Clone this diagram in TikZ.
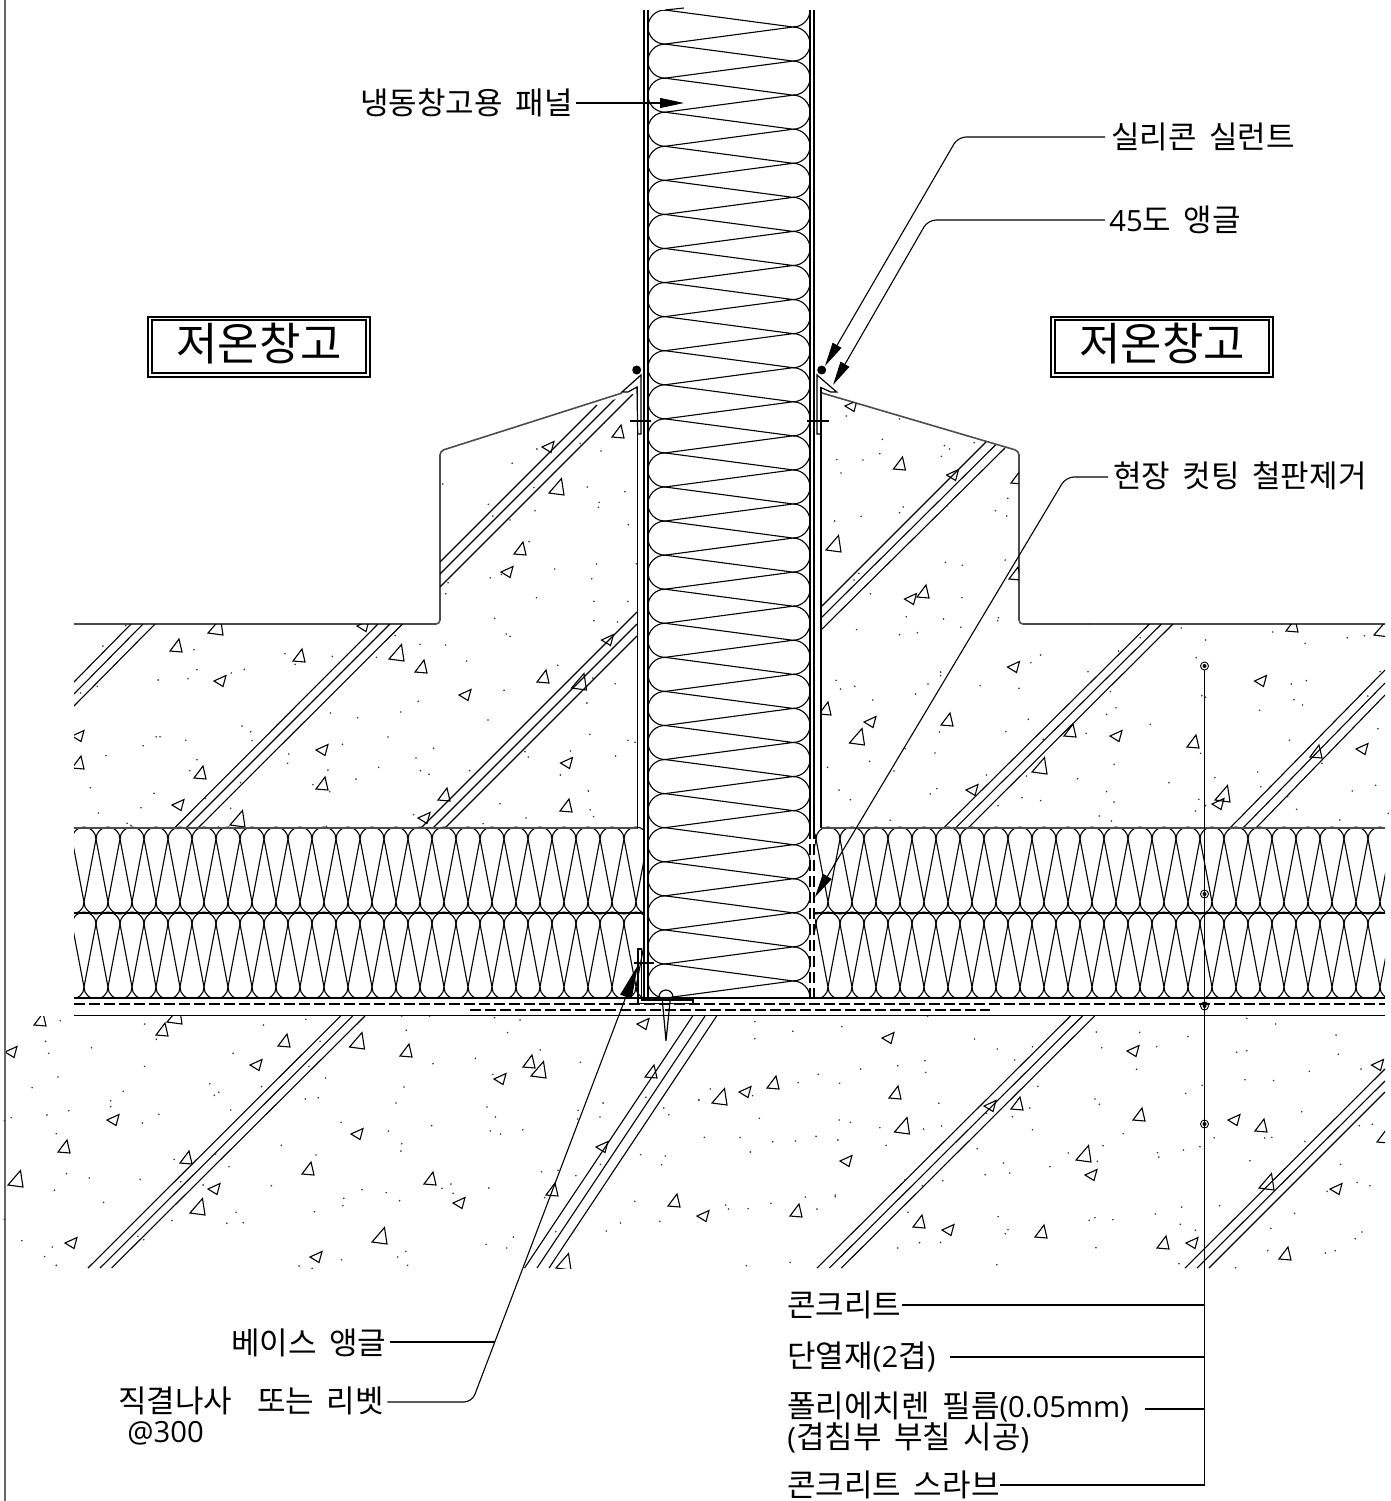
\documentclass[tikz,border=0pt]{standalone}
\usepackage{fontspec}
\setmainfont{Noto Sans CJK KR}[WordSpace=1.8]
\newfontfamily\latfont{Open Sans}
\newcommand{\lat}[1]{{\latfont\fontsize{14.6}{15.5}\selectfont #1}}
\usetikzlibrary{arrows.meta}
\tikzset{
  thin line/.style={line width=0.55pt},
  wall/.style={line width=0.6pt},
  aggr/.style={line width=0.55pt},
  seed/.style={fill=black!80},
  curb/.style={line width=0.8pt, draw=black!70},
  leader/.style={line width=0.55pt, rounded corners=4pt},
  tip/.style={-{Triangle[length=12pt,width=5pt]}},
  bigtip/.style={-{Triangle[length=17pt,width=6pt]}},
  label/.style={anchor=west, inner sep=0pt, font=\fontsize{15.5}{15.5}\selectfont},
  room/.style={inner sep=0pt, font=\fontsize{22.5}{25}\selectfont},
  pinmark/.style={draw, circle, inner sep=0pt, minimum size=4pt, line width=0.45pt},
  film dash/.style={thin line, dash pattern=on 5.5pt off 2pt}
}
% one layer of batt: top edge at #1, 85 high, cusps every 24
\newcommand{\battrow}[1]{
  \foreach \k in {0,...,55} {
    \draw[thin line] (72+24*\k,#1+11) arc (180:360:12);
    \draw[thin line] (60+24*\k,#1+74) arc (180:0:12);
    \draw[thin line] (72+24*\k,#1+11) -- (84+24*\k,#1+74) -- (96+24*\k,#1+11);
  }
}
\begin{document}
\begin{tikzpicture}[x=0.5pt, y=-0.5pt]
  \useasboundingbox (0,0) rectangle (1391,1501);
  \draw[line width=0.7pt, draw=black!60] (5,0) -- (5,1501);
  % concrete above the batts
  \draw[curb, rounded corners=2pt] (74,624) -- (440,624) -- (440,451) -- (622,393);
  \draw[curb, rounded corners=2pt] (1385,624) -- (1019,624) -- (1019,451) -- (822,393);
  \begin{scope}
    \clip (74,624) -- (440,624) -- (440,452) -- (633,394) -- (638,394) -- (638,828) -- (74,828) -- cycle
          (821,393) -- (1019,451) -- (1019,624) -- (1385,624) -- (1385,828) -- (821,828) -- cycle;
    \draw[thin line] (440,562) -- (597,405);
    \draw[thin line] (440,574) -- (616,398);
    \draw[thin line] (440,587) -- (633,394);
    \draw[thin line] (74,682) -- (131,624);
    \draw[thin line] (74,694) -- (143,624);
    \draw[thin line] (74,706) -- (155,624);
    \draw[thin line] (174.5,828) -- (378,624);
    \draw[thin line] (186,828) -- (390,624);
    \draw[thin line] (198,828) -- (402.5,624);
    \draw[thin line] (421,828) -- (637,612);
    \draw[thin line] (433,828) -- (637,624);
    \draw[thin line] (445,828) -- (637,636);
    \draw[thin line] (822,606) -- (986,442);
    \draw[thin line] (822,617) -- (995.5,445);
    \draw[thin line] (822,629) -- (1005,448);
    \draw[thin line] (943.6,828) -- (1149.5,624);
    \draw[thin line] (955.5,828) -- (1161.5,624);
    \draw[thin line] (968,828) -- (1173,624);
    \draw[thin line] (1230,828) -- (1385,670);
    \draw[thin line] (1243,828) -- (1385,683);
    \draw[thin line] (1256,828) -- (1385,695);
    \foreach \x/\y in {618/432,520/549,176/646,299/656,421/667,543/677,78/763,200/773,322/784,444/795,566/806,
        899.5/464,947/720,1070/731,1193/742,1316/752,923/592,1017/478,1015/574,825/709,1292/626}
      \draw[aggr, shift={(\x,\y)}] (3,-7) -- (-6,5) -- (6,6) -- cycle;
    \foreach \x/\y in {558/488,217/628,398/654,580.5/683,239/820,835/545,858.5/738,1041/767,1224/795,1383/630}
      \draw[aggr, shift={(\x,\y)}] (3.5,-9.5) -- (-9,5) -- (6,7) -- cycle;
    \foreach \x/\y in {549/447,508/572,221/681,466/695,608.5/640,79/736,323/750,567.5/763,179/805,425/818,364/626,
        852/406,953.6/475,911.5/599,1014.5/667,1261.5/681,871/722,1117/736,1363/749,973/790,1219/804}
      \draw[aggr, shift={(\x,\y)}] (-7,0) -- (5,-5.5) -- (2,5.5) -- cycle;
  \end{scope}
  % grit, upper left
  \foreach \x/\y in {1278/177,1212/220,1394/160,1450/183,1458/100,1026/282,1148/343,1160/378,1206/390,1273/362,1270/293,1413/291,1514/305,1445/337,1443/352,1523/404,1257/455,1153/563,1183/553,1326/537,1425/566,1438/522,1545/521,1040/578,1034/611,1277/623,1431/634,1522/634,1165/685,1431/692,1494/696,1196/732,1206/739,965/763,1033/765,898/736,848/802,1090/813,1334/826,1428/864,1488/881,1190/901,1412/939,960/934,913/966,1147/990,1420/1033,879/1041,1522/1051,1541/1057,1001/1075,1368/1083,1246/1085,1255/1101,1489/1098,954/1104,854/1132,966/1142,989/1153,1098/1142,1341/1155,1416/1203,1179/1241,1421/1259,1430/1280,1249/1284,1134/1301,948/1274,115/768,176/707,359/779,603/791,630/823,730/799,367/839,343/866,263/870,459/849,494/838,100/889,55/909,725/969,798/983,488/1008,511/1025,515/1052,337/1051,258/1040,268/1040,223/1067,123/1097,757/1063,613/1092,610/1120,367/1109,348/1142,718/1140,793/1167,678/1184,723/1205,81/1193,252/1210,484/1178,390/1225,217/1253,457/1255,103/1269,180/1300,190/1306,424/1311,714/1309}
    \fill[seed] (60+\x/2.68,390+\y/3) circle (0.9);
  % grit, upper right
  \foreach \x/\y in {97/78,240/87,194/148,360/167,374/177,440/158,187/191,352/199,72/209,142/210,83/249,250/351,240/368,367/348,530/325,497/362,527/378,137/379,66/393,363/517,408/526,523/510,131/550,118/570,162/611,407/623,258/680,358/687,404/712,505/683,503/692,125/719,240/734,288/728,750/702,995/714,1240/726,1060/750,1327/760,1440/743,1486/737,885/743,618/795,592/818,827/783,350/846,350/857,745/845,70/871,82/897,120/889,316/882,456/887,560/895,283/912,168/930,1035/803,1050/917,1060/922,1290/882,1330/872,1528/845,805/905,1495/918,1297/929,1320/945,1205/961,820/953,795/973,585/988,912/1003,525/1025,347/1026,740/1030,625/1048,1285/1051,1522/1016,255/1076,335/1089,1047/1090,160/1114,815/1123,47/1132,225/1143,1200/1146,1372/1120,473/1155,580/1158,717/1166,1085/1163,962/1178,1313/1177,1516/1186,1208/1190,340/1196,78/1200,322/1212,795/1205,1453/1203,1280/1220,108/1229,568/1223,618/1232,815/1236,1042/1228,504/1247,1060/1247,1033/1263,1304/1258,1550/1270,1420/1290,775/1278,808/1293,215/1291}
    \fill[seed] (810+\x/2.68,390+\y/3) circle (0.9);
  % concrete slab below
  \begin{scope}
    \clip (6,1016) rectangle (1385,1268);
    \draw[thin line] (88,1268) -- (340.6,1016);
    \draw[thin line] (100,1268) -- (352.7,1016);
    \draw[thin line] (111.6,1268) -- (365,1016);
    \draw[thin line] (524.5,1268) -- (692.7,1016);
    \draw[thin line] (537,1268) -- (705,1016);
    \draw[thin line] (549,1268) -- (716.7,1016);
    \draw[thin line] (817,1268) -- (1070.5,1016);
    \draw[thin line] (829.4,1268) -- (1082.5,1016);
    \draw[thin line] (841.4,1268) -- (1094.6,1016);
    \draw[thin line] (1185,1268) -- (1385,1069);
    \draw[thin line] (1197,1268) -- (1385,1081);
    \draw[thin line] (1209,1268) -- (1385,1092);
    \foreach \x/\y in {40/1020,162/1030,284/1041,406/1051,529/1062,651/1072,64/1147,186/1158,308/1169,430/1179,552/1190,674/1201,
        773/1083,895/1093,1017/1104,1139/1115,1261/1126,796/1211,919/1222,1041/1232,1163/1243,1285/1254,1383/1137}
      \draw[aggr, shift={(\x,\y)}] (3,-7) -- (-6,5) -- (6,6) -- cycle;
    \foreach \x/\y in {358.5/1042,540/1071,17/1180,199/1208,381/1237,565/1263,176/1017,721/1098,903.5/1127,1085/1155,1268/1183}
      \draw[aggr, shift={(\x,\y)}] (3.5,-9.5) -- (-9,5) -- (6,7) -- cycle;
    \foreach \x/\y in {12/1052,257/1065,501/1079,114/1120,358/1134,603/1147,215/1189,460/1203,72/1243,317/1257,644/1024,
        889/1038,1134/1051,1378.5/1065,746/1092,991/1106,1235/1120,847/1161,1092/1175,1337/1189,704/1216,949/1230,1193/1243}
      \draw[aggr, shift={(\x,\y)}] (-7,0) -- (5,-5.5) -- (2,5.5) -- cycle;
  \end{scope}
  % grit, slab
  \foreach \x/\y in {135/32,102/94,109/130,205/113,324/42,350/88,324/169,130/201,72/233,276/244,248/272,248/290,154/302,105/315,356/313,25/323,10/332,319/339,126/371,149/491,200/504,314/508,122/541,232/577,10/628,49/692,117/711,100/740,126/766,590/45,685/28,522/130,717/94,692/169,729/204,586/230,470/221,490/247,480/256,517/300,684/267,713/263,764/337,630/406,483/432,708/435,390/448,513/470,405/515,455/525,608/527,529/607,704/605,385/632,508/640,545/638,309/679,322/689,670/768,699/775,900/18,962/18,910/61,1108/23,1165/30,1137/68,1210/120,1065/145,970/161,1300/157,1104/193,905/231,887/279,1091/291,1110/321,967/347,870/363,1098/363,1121/372,1171/359,1295/301,1294/327,1351/279,1344/321,1447/262,1487/294,1498/314,900/401,898/423,1375/373,1345/463,1435/434,1490/438,1482/464,1213/485,1250/481,1290/497,811/539,865/548,895/572,770/565,768/587,990/535,1010/522,1015/550,1095/534,1220/563,1422/574,1565/617,1390/639,1478/634,1358/663,1245/665,1285/665,1150/681,1089/703,1135/714,909/724,891/741,913/766,765/749,1565/270}
    \fill[seed] (\x/2.24,1010+\y/3) circle (0.9);
  \foreach \x/\y in {143/35,228/64,338/50,143/86,530/18,635/87,686/117,765/110,725/150,463/167,524/152,526/187,380/177,285/193,240/218,333/220,43/237,18/270,138/257,555/280,777/229,153/325,332/330,357/337,423/353,521/357,561/348,30/382,110/382,183/395,234/393,280/379,329/390,437/406,133/426,641/416,720/320,662/310,765/359,759/294,700/459,659/494,714/489,804/470,564/512,479/510,518/527,256/561,323/555,323/560,78/585,84/597,128/596,179/580,282/597,486/607,688/620,710/659,704/671,512/698,559/697,463/714,907/713,685/764,222/757,124/767,908/66,1005/67,1113/80,920/113,1043/110,998/178,1145/226,1108/250,905/267,915/283,968/371,923/407,845/429,910/454,1045/428,1048/441,1103/420,1140/410,1172/383,1040/612,1099/591,1184/587,1096/643,1130/661,945/629,905/623,892/631,1093/761,1245/25,1310/42,1445/75,1222/127,1245/122,1450/133,1385/184,1501/177,1241/209,1305/212,1368/305,1497/347,1526/343,1285/384,1301/382,1375/394,1252/452,1455/463,1492/517,1521/527,1425/544,1352/610,1299/655,1503/666,1488/686,1292/722,1421/729,1443/722,1220/773}
    \fill[seed] (691+\x/2.24,1010+\y/3) circle (0.9);
  % batts under the slab, both sides of the panel
  \begin{scope}
    \clip (74,820) rectangle (644,998) (815,820) rectangle (1385,998);
    \battrow{828}
    \battrow{913}
  \end{scope}
  \draw[curb] (74,828) -- (638,828);
  \draw[curb] (821,828) -- (1385,828);
  \draw[thin line] (74,913) -- (644,913);
  \draw[thin line] (815,913) -- (1385,913);
  \draw[thin line] (74,998) -- (1385,998);
  \draw[film dash] (74,1004) -- (1385,1004);
  \draw[film dash] (470,1010) -- (990,1010);
  \draw[thin line] (74,1015.5) -- (1385,1015.5);
  % cold store panel
  \begin{scope}
    \clip (640,10) rectangle (820,998);
    \foreach \k in {-1,...,29} {
      \draw[thin line] (665,10+34.07*\k) arc (-90:-270:17.03);
      \draw[thin line] (793,27+34.07*\k) arc (-90:90:17.03);
      \draw[thin line] (665,10+34.07*\k) -- (793,27+34.07*\k) -- (665,44.07+34.07*\k);
    }
  \end{scope}
  \draw[thin line] (665,10) -- (684,8);
  \draw[wall] (644,10) -- (644,998);
  \draw[wall] (648,10) -- (648,998);
  \draw[wall] (810,10) -- (810,828);
  \draw[wall] (814,10) -- (814,828);
  \draw[wall, dash pattern=on 5.5pt off 2.5pt] (810,828) -- (810,998);
  \draw[wall, dash pattern=on 5.5pt off 2.5pt] (814,828) -- (814,998);
  % flashing at the curbs
  \draw[thin line] (637.7,387) -- (637.7,828);
  \draw[thin line] (821,387) -- (821,828);
  \draw[wall] (641,375) -- (622,392) -- (628,392) -- (637,387) -- (637.7,434) -- (641,434) -- cycle;
  \draw[wall] (817,375) -- (836.7,392) -- (830.7,392) -- (821,387.5) -- (821,434) -- (817,434) -- cycle;
  \draw[thin line] (630,421) -- (650.7,421);
  \draw[thin line] (807,421) -- (828.7,421);
  \fill (636.7,370) circle (4.5);
  \fill (821.7,370) circle (4.5);
  % base angle and rivet
  \draw[wall] (638,949) -- (641.7,949) -- (641.7,1000) -- (693,1000) -- (693,1003.5) -- (638,1003.5) -- cycle;
  \draw[thin line] (634,963) -- (654,963);
  \draw[wall] (659,997) arc (180:360:7);
  \draw[wall] (662,997) -- (666,1040.7) -- (670.5,997);
  % room tags
  \draw[thin line] (148,317) rectangle (370,377);
  \draw[thin line] (152,320) rectangle (366,373);
  \node[room] (roomL) at (259,344) {저온창고};
  \draw[thin line] (1051,317) rectangle (1273,377);
  \draw[thin line] (1055,320) rectangle (1269,373);
  \node[room] (roomR) at (1162,344) {저온창고};
  % labels and leaders
  \node[label] (lblPanel) at (360,103) {냉동창고용 패널};
  \node[label] (lblSilicone) at (1111,137) {실리콘 실런트};
  \node[label] (lblAngle) at (1109,220) {\lat{45}도 앵글};
  \node[label] (lblCut) at (1113,476) {현장 컷팅 철판제거};
  \node[label] (lblBase) at (231,1343) {베이스 앵글};
  \node[label] (lblRivet) at (118,1401) {직결나사 \ 또는 리벳};
  \node[label] (lblPitch) at (127,1433) {\lat{@300}};
  \node[label] (lblConc) at (787,1305) {콘크리트};
  \node[label] (lblBatt) at (787,1357) {단열재\lat{(2}겹\lat{)}};
  \node[label, align=left] (lblFilm) at (787,1422) {폴리에치렌 필름\lat{(0.05mm)}\\\lat{(}겹침부 부칠 시공\lat{)}};
  \node[label] (lblSlab) at (787,1485) {콘크리트 스라브};
  \coordinate (tipPanel) at (684,103);
  \coordinate (tipSilicone) at (825,366);
  \coordinate (tipAngle) at (833,385);
  \coordinate (tipCut) at (815,897);
  \coordinate (tipRivet) at (638,965);
  \coordinate (kneeRivet) at (472,1402);
  \coordinate (meetBase) at (495,1342);
  \draw[thin line, tip] (lblPanel.east) ++(3,0) -- (tipPanel);
  \draw[leader, tip] (lblSilicone.west) ++(-6,0) -- (958,137) -- (tipSilicone);
  \draw[leader, tip] (lblAngle.west) ++(-4,0) -- (928,220) -- (tipAngle);
  \draw[leader, tip] (lblCut.west) ++(-5,1) -- (1066,477) -- (tipCut);
  \draw[leader, bigtip] (lblRivet.east) ++(3,1) -- (kneeRivet) -- (tipRivet);
  \draw[thin line] (lblBase.east) ++(3,-1) -- (meetBase);
  % pins and the riser on the right
  \node[pinmark] (pinA) at (1204.5,666) {};
  \node[pinmark] (pinB) at (1204.5,894) {};
  \node[pinmark] (pinC) at (1204.5,1006) {};
  \node[pinmark] (pinD) at (1204.5,1124) {};
  \foreach \p in {pinA,pinB,pinC,pinD} \fill (\p) circle (2);
  \coordinate (riserEnd) at (1204.5,1485);
  \draw[thin line] (pinA) -- (riserEnd) -- (lblSlab.east);
  \draw[thin line] (lblConc.east) -- (1204.5,1305);
  \draw[thin line] (950,1357) -- (1204.5,1357);
  \draw[thin line] (1145,1409) -- (1204.5,1409);
\end{tikzpicture}
\end{document}
